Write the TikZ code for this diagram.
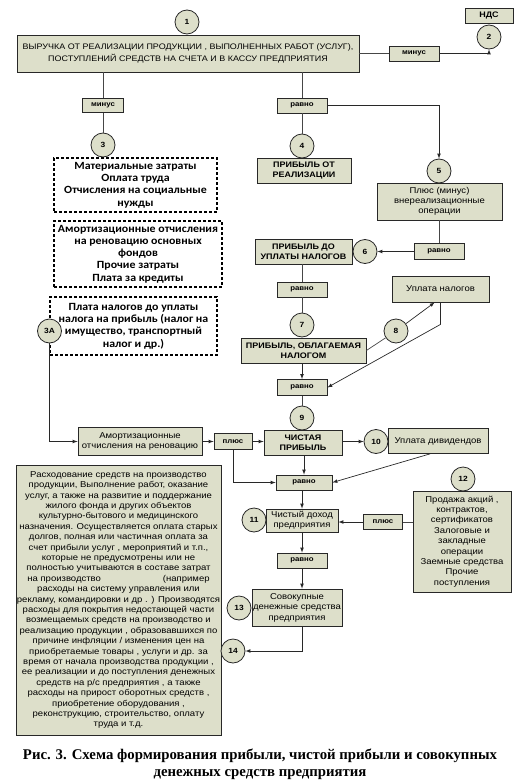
\documentclass[tikz,border=0pt]{standalone}
\usepackage{fontspec}
\setmainfont{Liberation Sans}[FakeStretch=1.12]
\newfontfamily\calfont{Carlito}[FakeStretch=1.08]
\newfontfamily\capfont{Liberation Serif}
\usetikzlibrary{positioning}
\usetikzlibrary{calc}
\usetikzlibrary{arrows}
\definecolor{sand}{RGB}{221,223,202}
\definecolor{ink}{RGB}{40,40,40}
\definecolor{wire}{RGB}{70,70,70}

\begin{document}
\begin{tikzpicture}[
    x=1pt, y=-1pt,
    >=latex,
    % node styles
    box/.style = {
      draw=ink,
      fill=sand,
      line width=0.8pt,
      inner sep=1pt,
      align=center,
      font=\fontsize{8.5}{10.4}\selectfont
    },
    capsbox/.style = {box, font=\bfseries\fontsize{8}{10}\selectfont},
    tag/.style = {box, font=\bfseries\fontsize{7}{8}\selectfont},
    dashbox/.style = {
      draw=black,
      dash pattern=on 3pt off 2pt,
      line width=1.2pt,
      fill=white,
      inner sep=1pt,
      align=center,
      font=\calfont\bfseries\fontsize{11}{12.3}\selectfont
    },
    circ/.style = {
      circle,
      draw=ink,
      fill=sand,
      line width=0.8pt,
      minimum size=24pt,
      inner sep=0pt,
      font=\bfseries\fontsize{7.5}{8}\selectfont
    },
    % arrow styles
    ln/.style = {-, line width=0.7pt, draw=wire},
    arr/.style = {->, line width=0.7pt, draw=ink}
  ]
  \useasboundingbox (0,0) rectangle (519,784);

  % --- Nodes, top part
  \node[box, minimum width=342pt, minimum height=37pt, font=\fontsize{8}{12}\selectfont] (rev) at (188,53.5)
    {ВЫРУЧКА ОТ РЕАЛИЗАЦИИ ПРОДУКЦИИ , ВЫПОЛНЕННЫХ РАБОТ (УСЛУГ),\\ПОСТУПЛЕНИЙ СРЕДСТВ НА СЧЕТА И В КАССУ ПРЕДПРИЯТИЯ};
  \node[circ] (c1) at (187,22) {1};
  \node[tag, minimum width=48pt, minimum height=15pt, font=\bfseries\fontsize{8}{9}\selectfont] (vat) at (489,15.5) {НДС};
  \node[circ] (c2) at (489,37) {2};
  \node[tag, minimum width=50pt, minimum height=15pt] (minus1) at (414,53.5) {минус};
  \node[tag, minimum width=41pt, minimum height=14pt] (minus2) at (103,105.5) {минус};
  \node[tag, minimum width=50pt, minimum height=15pt] (eq1) at (302,105.5) {равно};

  % dashed cost boxes
  \node[circ] (c3) at (103,145) {3};
  \node[dashbox, minimum width=163pt, minimum height=54pt] (costs) at (135.5,185)
    {Материальные затраты\\Оплата труда\\Отчисления на социальные\\нужды};
  \node[dashbox, minimum width=168pt, minimum height=66pt] (depr) at (138,254)
    {Амортизационные отчисления\\на реновацию основных\\фондов\\Прочие затраты\\Плата за кредиты};
  \node[dashbox, minimum width=167pt, minimum height=58pt] (levy) at (133.5,326)
    {Плата налогов до уплаты\\налога на прибыль (налог на\\имущество, транспортный\\налог и др.)};
  \node[circ] (c3a) at (49.5,331) {3А};

  % profit chain
  \node[circ] (c4) at (302,146) {4};
  \node[capsbox, minimum width=94pt, minimum height=25pt] (sales) at (304,170.5) {ПРИБЫЛЬ ОТ\\РЕАЛИЗАЦИИ};
  \node[circ] (c5) at (439,171) {5};
  \node[box, minimum width=125pt, minimum height=37pt, font=\fontsize{8.5}{10}\selectfont] (nonop) at (439.5,201.5)
    {Плюс (минус)\\внереализационные\\операции};
  \node[tag, minimum width=50pt, minimum height=16pt] (eq2) at (439,251.5) {равно};
  \node[circ] (c6) at (365,251.5) {6};
  \node[capsbox, minimum width=97pt, minimum height=25pt] (pretax) at (303.5,251.5) {ПРИБЫЛЬ ДО\\УПЛАТЫ НАЛОГОВ};
  \node[tag, minimum width=50pt, minimum height=15pt] (eq3) at (302,289.5) {равно};
  \node[circ] (c7) at (302,325) {7};
  \node[capsbox, minimum width=125pt, minimum height=25pt] (taxable) at (303.5,350.5) {ПРИБЫЛЬ, ОБЛАГАЕМАЯ\\НАЛОГОМ};
  \node[box, minimum width=97pt, minimum height=26pt] (tax) at (440.5,289) {Уплата налогов};
  \node[circ] (c8) at (396,331) {8};
  \node[tag, minimum width=50pt, minimum height=16pt] (eq4) at (302,387.5) {равно};
  \node[circ] (c9) at (302,418) {9};

  % net profit row
  \node[box, minimum width=124pt, minimum height=28pt] (amort) at (140,441.5) {Амортизационные\\отчисления на реновацию};
  \node[tag, minimum width=38pt, minimum height=16pt] (plus1) at (233,441.5) {плюс};
  \node[capsbox, minimum width=78pt, minimum height=25pt] (net) at (303,443) {ЧИСТАЯ\\ПРИБЫЛЬ};
  \node[circ] (c10) at (376,441.5) {10};
  \node[box, minimum width=100pt, minimum height=25pt] (div) at (438,441) {Уплата дивидендов};
  \node[tag, minimum width=56pt, minimum height=15pt] (eq5) at (304,482.5) {равно};

  % lower part
  \node[box, minimum width=72pt, minimum height=23pt, font=\fontsize{8.5}{10}\selectfont] (income) at (302,520.5) {Чистый доход\\предприятия};
  \node[circ] (c11) at (254,520) {11};
  \node[box, minimum width=98pt, minimum height=101pt] (other) at (462,541.5)
    {Продажа акций ,\\контрактов,\\сертификатов\\Залоговые и\\закладные\\операции\\Заемные средства\\Прочие\\поступления};
  \node[circ] (c12) at (463,479) {12};
  \node[tag, minimum width=39pt, minimum height=15pt] (plus2) at (383,522) {плюс};
  \node[tag, minimum width=50pt, minimum height=15pt] (eq6) at (302,560.5) {равно};
  \node[box, minimum width=90pt, minimum height=37pt, font=\fontsize{8.5}{10.5}\selectfont] (total) at (297,607.5)
    {Совокупные\\денежные средства\\предприятия};
  \node[circ] (c13) at (239,608) {13};
  \node[box, minimum width=205pt, minimum height=270pt] (spend) at (118.5,600)
    {Расходование средств на производство\\
     продукции, Выполнение работ, оказание\\
     услуг, а также на развитие и поддержание\\
     жилого фонда и других объектов\\
     культурно-бытового и медицинского\\
     назначения. Осуществляется оплата старых\\
     долгов, полная или частичная оплата за\\
     счет прибыли услуг , мероприятий и т.п.,\\
     которые не предусмотрены или не\\
     полностью учитываются в составе затрат\\
     на производство\hspace{62pt}(например\\
     расходы на систему управления или\\
     рекламу, командировки и др . ) Производятся\\
     расходы для покрытия недостающей части\\
     возмещаемых средств на производство и\\
     реализацию продукции , образовавшихся по\\
     причине инфляции / изменения цен на\\
     приобретаемые товары , услуги и др. за\\
     время от начала производства продукции ,\\
     ее реализации и до поступления денежных\\
     средств на р/с предприятия , а также\\
     расходы на прирост оборотных средств ,\\
     приобретение оборудования ,\\
     реконструкцию, строительство, оплату\\
     труда и т.д.};
  \node[circ] (c14) at (233,651) {14};

  \node[font=\capfont\bfseries\fontsize{14.8}{17}\selectfont, align=center] (caption) at (260,764)
    {Рис. 3. Схема формирования прибыли, чистой прибыли и совокупных\\денежных средств предприятия};

  % --- Arrows
  \draw[ln] (minus1.west -| rev.east) -- (minus1.west);
  \draw[arr] (minus1.east) -| (c2.south);
  \draw[ln] (rev.south -| minus2) -- (minus2.north);
  \draw[ln] (minus2.south) -- (c3.north);
  \draw[ln] (rev.south -| eq1) -- (eq1.north);
  \draw[ln] (eq1.south) -- (c4.north);
  \draw[arr] (eq1.east) -| (c5.north);
  \draw[ln] (nonop.south -| eq2) -- (eq2.north);
  \draw[arr] (eq2.west) -- (c6.east);
  \draw[ln] (pretax.south -| eq3) -- (eq3.north);
  \draw[ln] (eq3.south) -- (c7.north);

  % taxes loop through circle 8
  \draw[ln] (taxable.east) -- (c8);
  \draw[arr] (c8) -- ($(tax.south west)!0.44!(tax.south east)$);
  \draw[arr] (tax.south) -- ++(0,22) -- (eq4.east);
  \draw[arr] (taxable.south -| eq4) -- (eq4.north);
  \draw[ln] (eq4.south) -- (c9.north);

  % depreciation back into the chain
  \draw[arr] (c3a.south) |- (amort.west);
  \draw[arr] (amort.east) -- (plus1.west);
  \draw[arr] (plus1.east) -- (plus1.east -| net.west);
  \draw[arr] (plus1.east -| net.east) -- (c10.west);
  \draw[arr] ($(div.south west)!0.42!(div.south east)$) -- (eq5.east);
  \draw[arr] (plus1.south) |- (eq5.west);
  \draw[arr] (net.south -| eq5) -- (eq5.north);
  \draw[arr] (eq5.south -| income) -- (income.north);

  \draw[ln] (plus2.east -| other.west) -- (plus2.east);
  \draw[arr] (plus2.west) -- (plus2.west -| income.east);
  \draw[arr] (income.south -| eq6) -- (eq6.north);
  \draw[arr] (eq6.south) -- (total.north -| eq6);
  \draw[arr] (total.south -| eq6) |- (c14.east);
\end{tikzpicture}
\end{document}
